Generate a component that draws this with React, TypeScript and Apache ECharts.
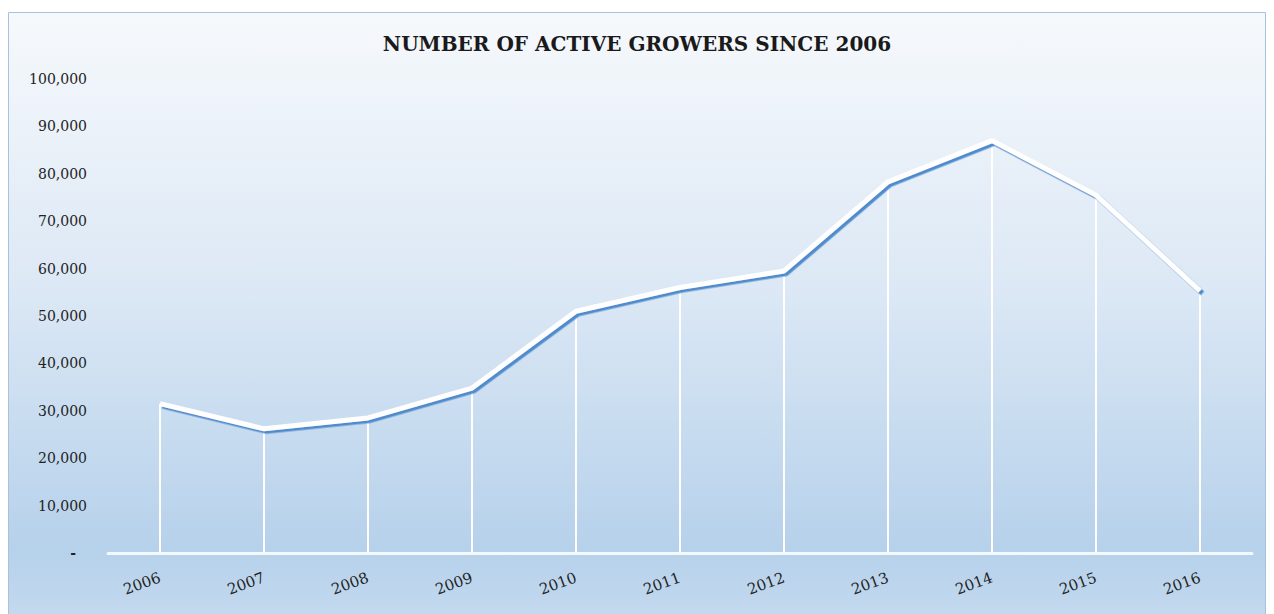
import React, { useEffect, useRef } from "react";
import * as echarts from "echarts";

const years = ["2006", "2007", "2008", "2009", "2010", "2011", "2012", "2013", "2014", "2015", "2016"];
const growers = [31500, 26200, 28500, 34800, 51000, 56000, 59500, 78300, 87000, 75500, 55300];
const yTicks = [0, 10000, 20000, 30000, 40000, 50000, 60000, 70000, 80000, 90000, 100000];
const title = "NUMBER OF ACTIVE GROWERS SINCE 2006";

export default function App() {
  const ref = useRef<HTMLDivElement>(null);
  useEffect(() => {
    if (!ref.current) return;
    const chart = echarts.init(ref.current, undefined, { renderer: "svg" });
    const font = "'DejaVu Serif', serif";
    chart.setOption({
      animation: false,
      graphic: [
        {
          type: "rect",
          z: -10,
          silent: true,
          shape: { x: 8.5, y: 12.5, width: 1257, height: 610 },
          style: {
            fill: new echarts.graphic.LinearGradient(0, 0, 0, 1, [
              { offset: 0, color: "#f6f9fc" },
              { offset: 0.45, color: "#dce8f5" },
              { offset: 0.88, color: "#b6d1eb" },
              { offset: 1, color: "#c4daef" },
            ]),
            stroke: "#a9c1dc",
            lineWidth: 1,
          },
        },
      ],
      title: {
        text: title,
        left: "center",
        top: 29,
        textStyle: {
          fontFamily: font,
          fontWeight: "bold",
          fontSize: 20,
          color: "#1a1a1a",
        },
      },
      grid: { left: 108, right: 22, top: 79, bottom: 61, containLabel: false },
      xAxis: {
        type: "category",
        data: years,
        boundaryGap: true,
        axisLine: { show: true, lineStyle: { color: "#f4f9fd", width: 3 } },
        axisTick: { show: false },
        axisLabel: {
          rotate: 20,
          margin: 24,
          fontFamily: font,
          fontSize: 15,
          color: "#222",
        },
        splitLine: { show: false },
      },
      yAxis: {
        type: "value",
        min: 0,
        max: 100000,
        interval: 10000,
        axisLine: { show: false },
        axisTick: { show: false },
        splitLine: { show: false },
        axisLabel: {
          margin: 21,
          fontFamily: font,
          fontSize: 14,
          color: "#222",
          formatter: (v: number) =>
            yTicks.includes(v) ? (v === 0 ? "{d|-}" : v.toLocaleString("en-US")) : "",
          rich: {
            d: { fontFamily: font, fontSize: 14, fontWeight: "bold", color: "#222", padding: [0, 11, 0, 0] },
          },
        },
      },
      series: [
        {
          type: "bar",
          data: growers,
          barWidth: 2,
          itemStyle: { color: "#ffffff" },
          z: 1,
          silent: true,
        },
        {
          type: "line",
          data: growers,
          symbol: "none",
          z: 3,
          lineStyle: {
            color: "#ffffff",
            width: 5,
            shadowColor: "rgba(80,140,205,1)",
            shadowBlur: 0,
            shadowOffsetX: 2.5,
            shadowOffsetY: 2.5,
          },
        },
      ],
    });
    return () => chart.dispose();
  }, []);
  return (
    <div
      ref={ref}
      style={{ position: "fixed", left: 0, top: 0, width: 1274, height: 614, background: "#ffffff" }}
    />
  );
}
